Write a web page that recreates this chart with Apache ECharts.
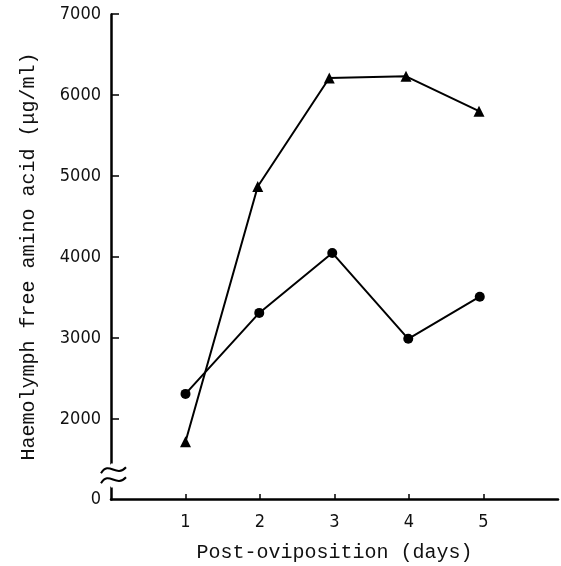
<!DOCTYPE html>
<html>
<head>
<meta charset="utf-8">
<script src="https://cdn.jsdelivr.net/npm/echarts@6/dist/echarts.min.js"></script>
<style>
  html, body { margin: 0; padding: 0; background: #fff; }
  #main { width: 561px; height: 566px; }
</style>
</head>
<body>
<div id="main"></div>
<script>
// 数据: 产卵后天数 / 血淋巴游离氨基酸 (μg/ml)
const triDays = [1, 1.97, 2.93, 3.96, 4.94];
const triValues = [1720, 4870, 6210, 6230, 5800];
const dotDays = [1, 1.99, 2.97, 3.99, 4.95];
const dotValues = [2310, 3310, 4050, 2990, 3510];
const xTicks = [1, 2, 3, 4, 5];
const yTicks = [0, 2000, 3000, 4000, 5000, 6000, 7000];

const pairs = (xs, ys) => xs.map((x, i) => [x, ys[i]]);

const chartDom = document.getElementById('main');
const chart = echarts.init(chartDom);

const tickFont = 'DejaVu Sans Condensed, Liberation Sans, sans-serif';

const option = {
    animation: false,
    backgroundColor: '#fff',
    grid: {
        left: 111,
        right: 3,
        top: 14,
        bottom: 67,
        outerBoundsMode: 'none'
    },
    xAxis: {
        type: 'value',
        min: 0,
        max: 6,
        interval: 1,
        name: 'Post-oviposition (days)',
        nameLocation: 'middle',
        nameGap: 44,
        nameTextStyle: {
            fontFamily: 'Liberation Mono',
            fontSize: 20,
            color: '#111'
        },
        axisLine: { lineStyle: { color: '#000', width: 2.5 } },
        axisTick: {
            inside: true,
            length: 5,
            customValues: xTicks,
            lineStyle: { color: '#000', width: 1.5 }
        },
        axisLabel: {
            customValues: xTicks,
            margin: 14,
            fontFamily: tickFont,
            fontSize: 18,
            color: '#111'
        },
        splitLine: { show: false }
    },
    yAxis: {
        type: 'value',
        min: 0,
        max: 7000,
        interval: 1000,
        breaks: [{ start: 150, end: 1450, gap: '4.8%' }],
        breakArea: {
            show: true,
            itemStyle: { color: '#fff', borderColor: 'transparent', opacity: 1 },
            zigzagAmplitude: 0
        },
        name: 'Haemolymph free amino acid (μg/ml)',
        nameLocation: 'middle',
        nameGap: 72,
        nameTextStyle: {
            fontFamily: 'Liberation Mono',
            fontSize: 20,
            color: '#111'
        },
        axisLine: { lineStyle: { color: '#000', width: 2.5 } },
        axisTick: {
            inside: true,
            length: 8,
            customValues: yTicks.filter(v => v > 0),
            lineStyle: { color: '#000', width: 1.5 }
        },
        axisLabel: {
            customValues: yTicks,
            margin: 10,
            formatter: v => String(v),
            fontFamily: tickFont,
            fontSize: 18,
            color: '#111'
        },
        splitLine: { show: false }
    },
    series: [
        {
            type: 'line',
            data: pairs(triDays, triValues),
            symbol: 'triangle',
            symbolSize: 11,
            itemStyle: { color: '#000' },
            lineStyle: { color: '#000', width: 2 }
        },
        {
            type: 'line',
            data: pairs(dotDays, dotValues),
            symbol: 'circle',
            symbolSize: 10,
            itemStyle: { color: '#000' },
            lineStyle: { color: '#000', width: 2 }
        }
    ]
};

chart.setOption(option);

// 断轴符号 (≈)
const mid = chart.convertToPixel({ gridIndex: 0 }, [0, 800]);
const wave = (dy) => ({
    type: 'bezierCurve',
    shape: {
        x1: mid[0] - 10, y1: mid[1] + dy + 3,
        x2: mid[0] + 15, y2: mid[1] + dy - 3,
        cpx1: mid[0] - 2, cpy1: mid[1] + dy - 10,
        cpx2: mid[0] + 5, cpy2: mid[1] + dy + 8
    },
    style: { stroke: '#000', lineWidth: 2, fill: null },
    z: 100
});
chart.setOption({
    graphic: [wave(-5), wave(5)]
});
</script>
</body>
</html>
